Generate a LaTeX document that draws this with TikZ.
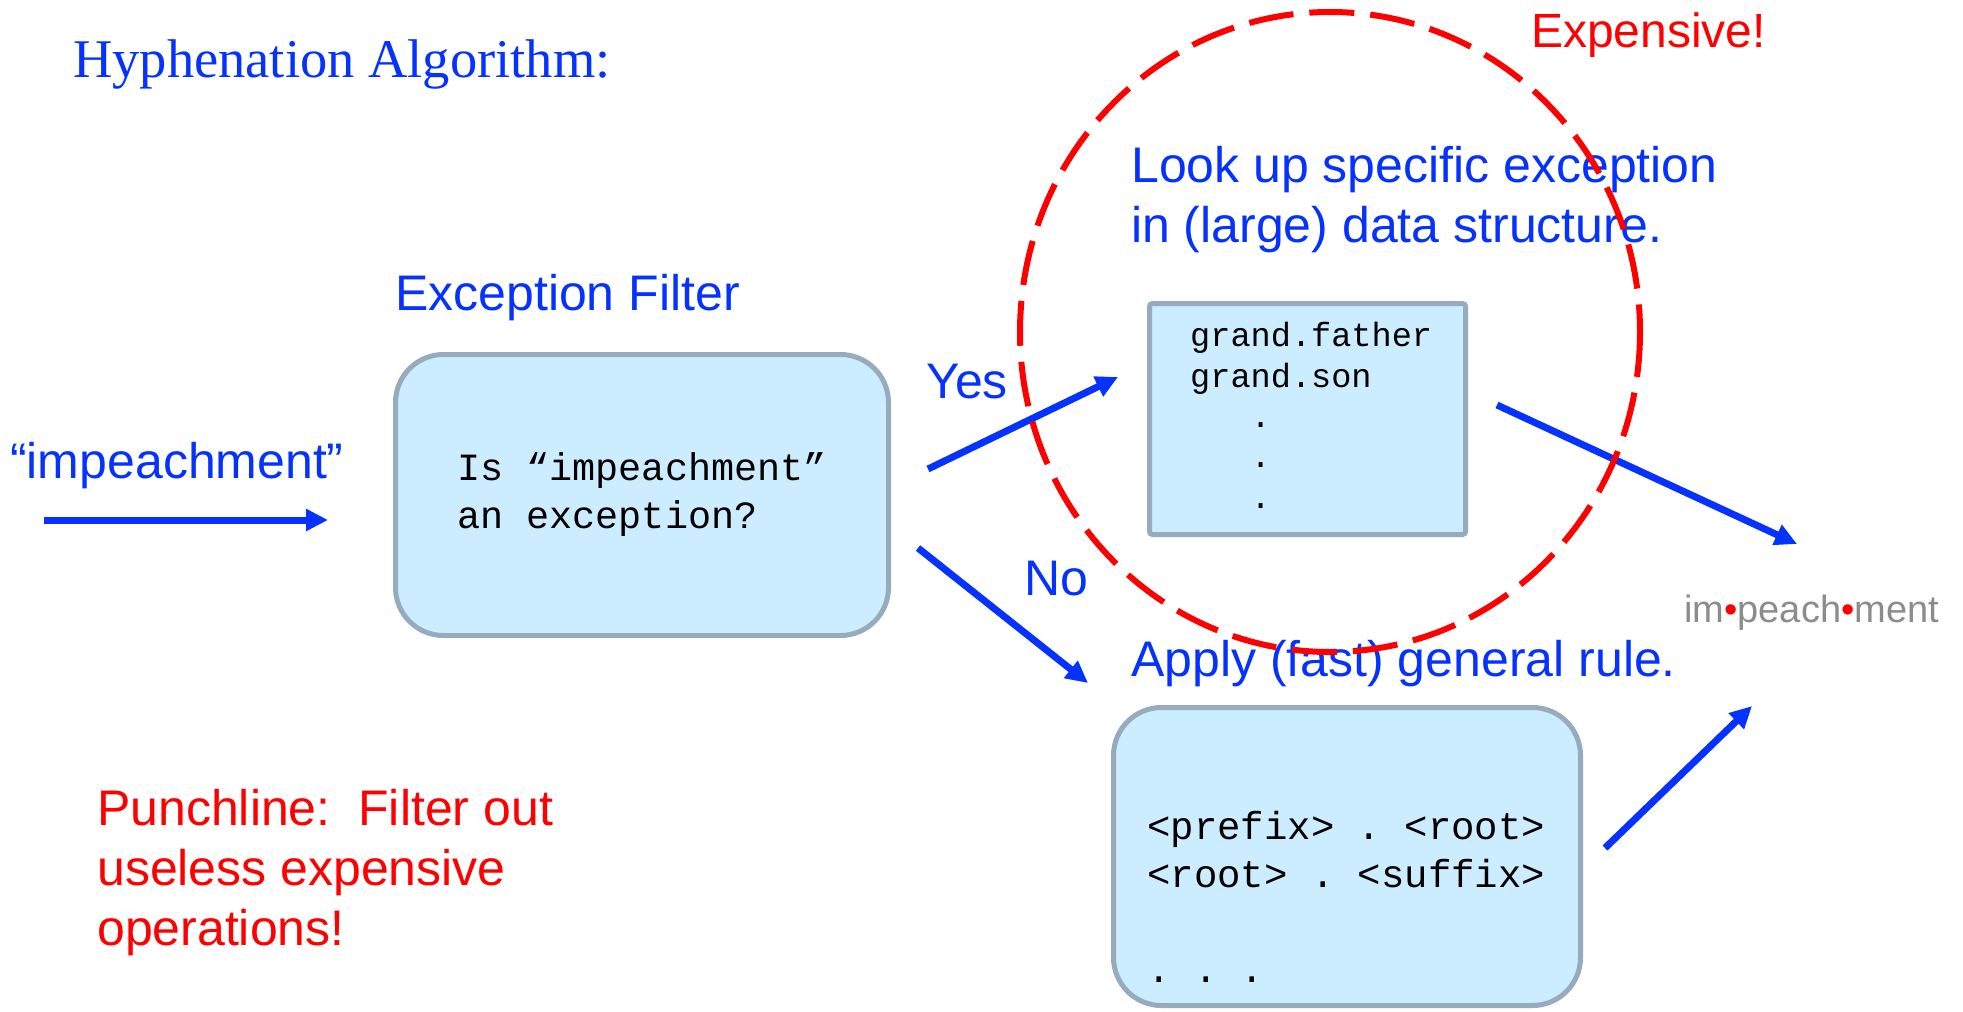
\documentclass[tikz,border=0pt]{standalone}
\usepackage{fontspec}
\setmainfont{Liberation Sans}
\setmonofont{Liberation Mono}
\newfontfamily\titlefont{Liberation Serif}
\usetikzlibrary{arrows.meta}

\definecolor{inkblue}{RGB}{5,50,255}
\definecolor{inkred}{RGB}{255,0,0}
\definecolor{boxfill}{RGB}{204,236,255}
\definecolor{boxline}{RGB}{150,172,190}
\definecolor{logogray}{RGB}{140,140,140}

% multi-line nodes below are anchored at the baseline of their last line
\tikzset{
  bluetext/.style={inner sep=0, anchor=base west, text=inkblue, align=left,
                   font=\fontsize{50bp}{60bp}\selectfont},
  redtext/.style={inner sep=0, anchor=base west, text=inkred, align=left,
                  font=\fontsize{50bp}{60bp}\selectfont},
  codetext/.style={inner sep=0, anchor=base west, text=black, align=left},
  roundbox/.style={draw=boxline, fill=boxfill, line width=5bp,
                   rounded corners=48bp, inner sep=0},
  tablebox/.style={draw=boxline, fill=boxfill, line width=5bp,
                   rounded corners=3bp, inner sep=0},
  flow/.style={draw=inkblue, line width=7bp,
               -{Triangle[length=22bp, width=21bp]}},
  costring/.style={draw=inkred, line width=6bp, dash pattern=on 45bp off 16bp}
}

\begin{document}
\begin{tikzpicture}[x=1bp, y=-1bp]
\useasboundingbox (0,0) rectangle (1963,1011);
\fill[white] (0,0) rectangle (1963,1011);

% heading
\node[inner sep=0, anchor=base west, text=inkblue,
      font=\titlefont\fontsize{54.5bp}{60bp}\selectfont] (title) at (73,77)
  {Hyphenation Algorithm:};

% input word
\node[bluetext] (word) at (10,478) {“impeachment”};

% filter stage
\node[bluetext] (filtertitle) at (395,310) {Exception Filter};
\node[roundbox, minimum width=493bp, minimum height=281bp, align=left,
      font=\ttfamily\fontsize{38.5bp}{48bp}\selectfont] (filter) at (642,495)
  {Is “impeachment”\\an exception?};

% exception lookup
\node[bluetext] (lookup) at (1131,242)
  {Look up specific exception\\in (large) data structure.};
\node[tablebox, minimum width=316bp, minimum height=231bp] (table) at (1307.5,419) {};
\node[codetext, font=\ttfamily\fontsize{33.6bp}{40.3bp}\selectfont] (tabletext) at (1190,508)
  {grand.father\\grand.son\\\hphantom{000}.\\\hphantom{000}.\\\hphantom{000}.};

% general rule
\node[bluetext] (apply) at (1131,676) {Apply (fast) general rule.};
\node[roundbox, minimum width=467bp, minimum height=298bp] (rules) at (1347,856.5) {};
\node[codetext, font=\ttfamily\fontsize{39bp}{47.5bp}\selectfont] (rulestext) at (1147,982)
  {<prefix> . <root>\\<root> . <suffix>\\[47.5bp]. . .};

% branch labels
\node[bluetext] (yes) at (926,398) {Yes};
\node[bluetext] (no) at (1024,595) {No};

% result
\node[inner sep=0, anchor=base west, text=logogray,
      font=\fontsize{38bp}{44bp}\selectfont] (result) at (1684,622)
  {im{\color{inkred}•}peach{\color{inkred}•}ment};

% notes
\node[redtext, font=\fontsize{48bp}{58bp}\selectfont] (expensive) at (1531,47) {Expensive!};
\node[redtext] (punch) at (97,945)
  {Punchline:\ \ Filter out\\useless expensive\\operations!};

% connectors
\coordinate (inS) at (44,520);    \coordinate (inE) at (328,520);
\coordinate (yesS) at (928,469);  \coordinate (yesE) at (1118,377);
\coordinate (noS) at (918,548);   \coordinate (noE) at (1088,683);
\coordinate (outAS) at (1497,405); \coordinate (outAE) at (1797,544);
\coordinate (outBS) at (1605,848); \coordinate (outBE) at (1752,706);

\draw[flow] (inS) -- (inE);
\draw[flow] (yesS) -- (yesE);
\draw[flow] (noS) -- (noE);
\draw[flow] (outAS) -- (outAE);
\draw[flow] (outBS) -- (outBE);

% cost ring around the lookup step
\coordinate (ringC) at (1330,332);
\draw[costring] (ringC) ellipse [x radius=310, y radius=320];
\end{tikzpicture}
\end{document}
